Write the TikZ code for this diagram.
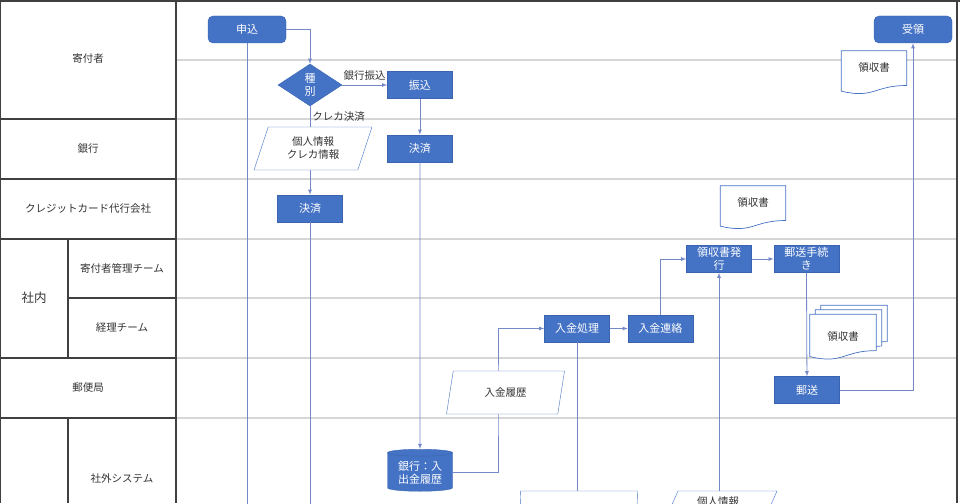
\documentclass[tikz,border=0pt]{standalone}
\usepackage{fontspec}
\setmainfont{Noto Sans CJK JP}
\usetikzlibrary{positioning,shapes.geometric,calc,backgrounds}
\definecolor{FlowBlue}{HTML}{4472C4}
\definecolor{FlowEdge}{HTML}{3A64B0}
\definecolor{FlowLine}{HTML}{7588C8}
\definecolor{LaneGray}{HTML}{D6D6D6}
\definecolor{LaneDark}{HTML}{404040}
\definecolor{LabelText}{HTML}{333333}
\newcommand{\flowlabelfont}{\fontsize{10.5pt}{13pt}\selectfont}
\newcommand{\flowboxfont}{\fontsize{11pt}{13pt}\selectfont}
% outline of a document shape around a node, shifted by #2
\newcommand{\docoutline}[2]{%
  \draw[docline] ($(#1.north west)+(#2)$) -- ($(#1.north east)+(#2)$)
    -- ($(#1.north east)!0.80!(#1.south east)+(#2)$)
    .. controls ($(#1.north)!0.80!(#1.south)+(#2)$) and ($(#1.north)!1.11!(#1.south)+(#2)$)
    .. ($(#1.north west)!0.93!(#1.south west)+(#2)$) -- cycle;}

\begin{document}
\begin{tikzpicture}[x=1pt,y=-1pt,
    lanedark/.style={draw=LaneDark,line width=1.2pt},
    lanelight/.style={draw=LaneGray,line width=1.2pt},
    lanelabel/.style={text=LabelText,font=\flowlabelfont},
    procbox/.style={draw=FlowEdge,fill=FlowBlue,text=white,minimum width=65pt,
      minimum height=27pt,inner sep=1pt,align=center,font=\flowboxfont},
    termbox/.style={procbox,rounded corners=5pt,minimum width=78pt},
    decide/.style={diamond,aspect=1.5,draw=FlowEdge,fill=FlowBlue,text=white,
      minimum width=64pt,minimum height=42pt,inner sep=0pt,align=center,font=\flowboxfont},
    dbase/.style={cylinder,shape border rotate=90,aspect=0.15,draw=FlowEdge,fill=FlowBlue,
      text=white,minimum width=65pt,minimum height=42pt,inner sep=1pt,align=center,font=\flowboxfont},
    databox/.style={trapezium,trapezium left angle=60,trapezium right angle=120,
      trapezium stretches body,draw=FlowBlue,fill=white,text=LabelText,
      minimum width=118pt,minimum height=43pt,inner sep=1pt,align=center,font=\flowlabelfont},
    docbox/.style={rectangle,minimum width=65pt,minimum height=43pt,inner sep=0pt,
      text=LabelText,font=\flowlabelfont},
    docline/.style={draw=FlowBlue,fill=white,line width=0.7pt},
    lbl/.style={text=LabelText,font=\flowlabelfont,inner sep=2pt},
    flow/.style={-latex,draw=FlowLine,line width=0.8pt},
    flowplain/.style={draw=FlowLine,line width=0.8pt}
  ]
  \useasboundingbox (0,0) rectangle (960,503);
  % swimlanes
  \begin{pgfonlayer}{background}
    \foreach \y in {60,119,179,239,298,358,418}
      \draw[lanelight] (176,\y) -- (957,\y);
    \foreach \y in {119,179,239,358,418}
      \draw[lanedark] (0,\y) -- (176,\y);
    \draw[lanedark] (68,298) -- (176,298);
    \draw[lanedark] (68,239) -- (68,358);
    \draw[lanedark] (68,418) -- (68,503);
    \draw[lanedark] (0.6,0) -- (0.6,503);
    \draw[lanedark] (176,0) -- (176,503);
    \draw[lanedark] (957,0) -- (957,503);
    \draw[lanedark] (0,1) -- (960,1);
  \end{pgfonlayer}
  \node[lanelabel] (donor) at (88,59) {寄付者};
  \node[lanelabel] (bank) at (88,149) {銀行};
  \node[lanelabel] (cardco) at (88,209) {クレジットカード代行会社};
  \node[lanelabel,font=\fontsize{12.5pt}{14pt}\selectfont] (inhouse) at (34,298) {社内};
  \node[lanelabel] (donorteam) at (122,268) {寄付者管理チーム};
  \node[lanelabel] (acctteam) at (122,328) {経理チーム};
  \node[lanelabel] (post) at (88,388) {郵便局};
  \node[lanelabel] (extsys) at (122,478) {社外システム};

  \begin{scope}
    \clip (0,0) rectangle (960,503);
    % process nodes
    \node[termbox] (apply) at (247,29.5) {申込};
    \node[termbox] (receive) at (913,29.5) {受領};
    \node[decide] (kind) at (310,85) {種\\別};
    \node[procbox,right=45pt of kind] (transfer) {振込};
    \node[procbox,below=36pt of transfer] (bankpay) {決済};
    \node[procbox] (cardpay) at (310,208.5) {決済};
    \node[dbase] (bankdb) at (420,472.5) {銀行：入\\出金履歴};
    \node[procbox] (deposit) at (577,328.5) {入金処理};
    \node[procbox,right=18pt of deposit] (notice) {入金連絡};
    \node[procbox] (issue) at (719,259) {領収書発\\行};
    \node[procbox,right=22pt of issue] (mailprep) {郵送手続\\き};
    \node[procbox] (mail) at (807,390) {郵送};
    \coordinate (histbend) at (498,400);
    \coordinate (applyend) at (247,540);
    \coordinate (cardend) at (310,540);
    \coordinate (depositend) at (577,540);
    \coordinate (infoend) at (719,540);
    % connectors
    \draw[flow] (apply) -| (kind);
    \draw[flow] (kind) -- node[above,lbl,yshift=2pt] {銀行振込} (transfer);
    \draw[flow] (kind) -- node[pos=0.12,right,lbl] {クレカ決済} (cardpay);
    \draw[flow] (transfer) -- (bankpay);
    \draw[flow] (bankpay) -- (bankdb);
    \draw[flow] (bankdb) -| (histbend) |- (deposit);
    \draw[flow] (deposit) -- (notice);
    \draw[flow] (notice) |- (issue);
    \draw[flow] (issue) -- (mailprep);
    \draw[flow] (mailprep) -- (mail);
    \draw[flow] (mail) -| (receive);
    \draw[flowplain] (apply) -- (applyend);
    \draw[flowplain] (cardpay) -- (cardend);
    \draw[flowplain] (deposit) -- (depositend);
    \draw[flow] (infoend) -- (issue);
    % data on top of the lines
    \node[databox] (cardinfo) at (313,148.5) {個人情報\\クレカ情報};
    \node[databox] (history) at (505.5,392.5) {入金履歴};
    \node[databox] (lowdata) at (578.5,512.5) {};
    \node[databox,text depth=22pt] (personal) at (718,512.5) {個人情報};
  \end{scope}

  % documents
  \node[docbox,text depth=10pt] (receipt1) at (874,72.5) {領収書};
  \node[docbox,text depth=10pt] (receipt2) at (753,207.5) {領収書};
  \node[docbox,minimum width=66pt,minimum height=45pt] (receipt3) at (843,337) {領収書};
  \begin{pgfonlayer}{background}
    \docoutline{receipt1}{0,0}
    \docoutline{receipt2}{0,0}
    \docoutline{receipt3}{11,-9}
    \docoutline{receipt3}{5.5,-4.5}
    \docoutline{receipt3}{0,0}
  \end{pgfonlayer}
\end{tikzpicture}
\end{document}
